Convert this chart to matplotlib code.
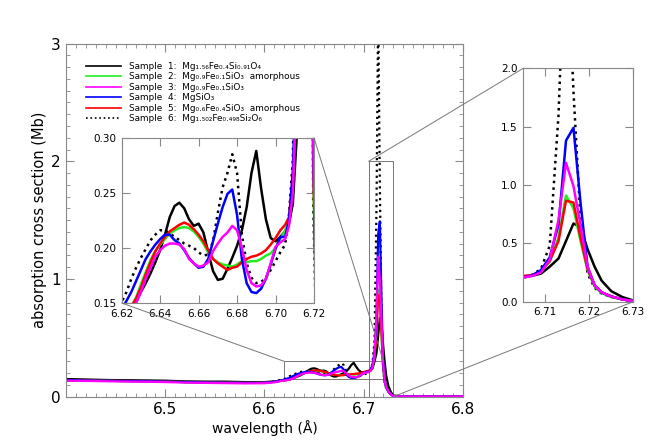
import matplotlib
matplotlib.use("Agg")
import matplotlib.pyplot as plt
from matplotlib.patches import Rectangle, ConnectionPatch
from matplotlib.ticker import MultipleLocator, FixedLocator

# wavelength grid (Angstrom)
wavelength = [6.40, 6.42, 6.44, 6.46, 6.48, 6.50, 6.52, 6.54, 6.56, 6.58, 6.60, 6.61,
              6.6200, 6.6225, 6.6250, 6.6275, 6.6300, 6.6325, 6.6350, 6.6375, 6.6400,
              6.6425, 6.6450, 6.6475, 6.6500, 6.6525, 6.6550, 6.6575, 6.6600, 6.6625,
              6.6650, 6.6675, 6.6700, 6.6725, 6.6750, 6.6775, 6.6800, 6.6825, 6.6850,
              6.6875, 6.6900, 6.6925, 6.6950, 6.6975, 6.7000, 6.7025, 6.7050,
              6.707, 6.709, 6.711, 6.713, 6.7147, 6.7164, 6.718, 6.7196, 6.7212,
              6.7228, 6.725, 6.7275, 6.730,
              6.74, 6.76, 6.78, 6.80]

sample1 = [0.150, 0.146, 0.142, 0.140, 0.138, 0.136, 0.130, 0.128, 0.128, 0.124, 0.124, 0.130,
           0.140, 0.142, 0.146, 0.151, 0.160, 0.168, 0.177, 0.187, 0.198,
           0.212, 0.228, 0.238, 0.241, 0.236, 0.226, 0.220, 0.222, 0.214,
           0.196, 0.179, 0.171, 0.172, 0.181, 0.191, 0.202, 0.216, 0.237,
           0.268, 0.288, 0.254, 0.226, 0.209, 0.206, 0.210, 0.215,
           0.222, 0.240, 0.300, 0.370, 0.520, 0.670, 0.640, 0.450, 0.300,
           0.180, 0.090, 0.040, 0.010,
           0.003, 0.002, 0.002, 0.002]

sample2 = [0.140, 0.138, 0.135, 0.133, 0.131, 0.128, 0.124, 0.121, 0.119, 0.117, 0.118, 0.126,
           0.139, 0.142, 0.147, 0.155, 0.167, 0.178, 0.189, 0.197, 0.203,
           0.208, 0.213, 0.216, 0.218, 0.219, 0.218, 0.215, 0.210, 0.204,
           0.196, 0.190, 0.187, 0.185, 0.184, 0.183, 0.185, 0.188, 0.187,
           0.188, 0.188, 0.190, 0.193, 0.195, 0.200, 0.208, 0.216,
           0.225, 0.260, 0.340, 0.550, 0.910, 0.800, 0.520, 0.270, 0.130,
           0.075, 0.040, 0.020, 0.005,
           0.002, 0.002, 0.002, 0.002]

sample3 = [0.136, 0.134, 0.131, 0.129, 0.127, 0.124, 0.120, 0.117, 0.115, 0.113, 0.114, 0.122,
           0.138, 0.140, 0.144, 0.150, 0.160, 0.172, 0.182, 0.192, 0.198,
           0.202, 0.204, 0.204, 0.203, 0.199, 0.190, 0.186, 0.183, 0.184,
           0.187, 0.197, 0.204, 0.210, 0.214, 0.220, 0.216, 0.200, 0.180,
           0.168, 0.165, 0.166, 0.172, 0.186, 0.201, 0.205, 0.208,
           0.220, 0.250, 0.360, 0.700, 1.190, 0.990, 0.660, 0.300, 0.140,
           0.080, 0.045, 0.020, 0.005,
           0.002, 0.002, 0.002, 0.002]

sample4 = [0.140, 0.138, 0.135, 0.133, 0.131, 0.128, 0.124, 0.121, 0.119, 0.117, 0.118, 0.127,
           0.144, 0.152, 0.160, 0.170, 0.180, 0.190, 0.197, 0.203, 0.208,
           0.212, 0.212, 0.207, 0.204, 0.198, 0.191, 0.186, 0.182, 0.183,
           0.190, 0.206, 0.222, 0.237, 0.249, 0.253, 0.230, 0.190, 0.168,
           0.160, 0.159, 0.163, 0.172, 0.185, 0.199, 0.210, 0.210,
           0.225, 0.270, 0.380, 0.660, 1.380, 1.490, 0.850, 0.300, 0.140,
           0.080, 0.045, 0.020, 0.005,
           0.002, 0.002, 0.002, 0.002]

sample5 = [0.140, 0.138, 0.135, 0.133, 0.131, 0.128, 0.124, 0.121, 0.119, 0.117, 0.118, 0.126,
           0.139, 0.142, 0.147, 0.154, 0.164, 0.176, 0.187, 0.197, 0.204,
           0.210, 0.215, 0.218, 0.221, 0.223, 0.221, 0.217, 0.212, 0.206,
           0.198, 0.190, 0.186, 0.183, 0.180, 0.182, 0.183, 0.187, 0.190,
           0.192, 0.193, 0.195, 0.198, 0.203, 0.209, 0.216, 0.221,
           0.228, 0.260, 0.350, 0.520, 0.865, 0.850, 0.550, 0.280, 0.140,
           0.080, 0.045, 0.020, 0.005,
           0.002, 0.002, 0.002, 0.002]

sample6 = [0.141, 0.139, 0.136, 0.134, 0.132, 0.129, 0.125, 0.122, 0.120, 0.118, 0.119, 0.130,
           0.151, 0.160, 0.172, 0.182, 0.191, 0.199, 0.207, 0.212, 0.216,
           0.216, 0.213, 0.210, 0.207, 0.204, 0.202, 0.200, 0.196, 0.193,
           0.194, 0.206, 0.232, 0.255, 0.268, 0.285, 0.268, 0.212, 0.186,
           0.173, 0.168, 0.169, 0.173, 0.180, 0.188, 0.196, 0.203,
           0.230, 0.280, 0.480, 1.600, 3.300, 1.800, 0.700, 0.240, 0.120,
           0.070, 0.040, 0.020, 0.005,
           0.002, 0.002, 0.002, 0.002]

labels = ['Sample  1:  Mg₁.₅₆Fe₀.₄Si₀.₉₁O₄',
          'Sample  2:  Mg₀.₉Fe₀.₁SiO₃  amorphous',
          'Sample  3:  Mg₀.₉Fe₀.₁SiO₃',
          'Sample  4:  MgSiO₃',
          'Sample  5:  Mg₀.₆Fe₀.₄SiO₃  amorphous',
          'Sample  6:  Mg₁.₅₀₂Fe₀.₄₉₈Si₂O₆']
colors = ['black', '#22ee22', '#ff00ff', '#0000ff', '#ff0000', 'black']
styles = ['-', '-', '-', '-', '-', ':']
series = [sample1, sample2, sample3, sample4, sample5, sample6]
# drawing order: black first, magenta on top
order = [0, 5, 1, 4, 3, 2]

zoom1_x = (6.62, 6.72)
zoom1_y = (0.15, 0.30)
zoom2_x = (6.705, 6.73)
zoom2_y = (0.0, 2.0)

axcol = '#888888'
plt.rcParams['font.family'] = 'DejaVu Sans'


def style_axes(ax, size):
    for s in ax.spines.values():
        s.set_color(axcol)
        s.set_linewidth(0.8)
    ax.tick_params(which='both', direction='in', top=True, right=True,
                   color=axcol, labelsize=size, pad=4)
    ax.tick_params(which='major', length=6)
    ax.tick_params(which='minor', length=3)


fig = plt.figure(figsize=(6.61, 4.41), dpi=100)
ax = fig.add_axes([0.1003, 0.1005, 0.5997, 0.8005])
for i in order:
    ax.plot(wavelength, series[i], color=colors[i], ls=styles[i], lw=1.6)
ax.set_xlim(6.4, 6.8)
ax.set_ylim(0, 3)
ax.xaxis.set_major_locator(FixedLocator([6.5, 6.6, 6.7, 6.8]))
ax.xaxis.set_minor_locator(MultipleLocator(0.01))
ax.yaxis.set_major_locator(MultipleLocator(1))
ax.yaxis.set_minor_locator(MultipleLocator(0.1))
ax.set_xticklabels(['6.5', '6.6', '6.7', '6.8'])
style_axes(ax, 11)
ax.set_xlabel('wavelength (Å)', fontsize=10, labelpad=2)
ax.set_ylabel('absorption cross section (Mb)', fontsize=10.5, labelpad=3)

handles = [plt.Line2D([], [], color=colors[i], ls=styles[i], lw=1.2) for i in range(6)]
ax.legend(handles, labels, loc='upper left', bbox_to_anchor=(0.041, 0.959),
          frameon=False, fontsize=6.4, handlelength=3.9, handletextpad=0.9,
          labelspacing=0.17, borderaxespad=0)

# boxes marking the zoomed regions
ax.add_patch(Rectangle((zoom1_x[0], zoom1_y[0]), zoom1_x[1] - zoom1_x[0],
                       zoom1_y[1] - zoom1_y[0], fill=False, ec='#777777', lw=0.7))
ax.add_patch(Rectangle((zoom2_x[0], zoom2_y[0]), zoom2_x[1] - zoom2_x[0],
                       zoom2_y[1] - zoom2_y[0], fill=False, ec='#777777', lw=0.7))

# zoom inset 1 (features)
ax1 = fig.add_axes([0.1841, 0.3129, 0.2909, 0.3748])
for i in order:
    ax1.plot(wavelength, series[i], color=colors[i], ls=styles[i], lw=1.8)
ax1.set_xlim(*zoom1_x)
ax1.set_ylim(*zoom1_y)
ax1.xaxis.set_major_locator(MultipleLocator(0.02))
ax1.yaxis.set_major_locator(MultipleLocator(0.05))
ax1.xaxis.set_major_formatter('{x:.2f}')
ax1.yaxis.set_major_formatter('{x:.2f}')
style_axes(ax1, 7.5)

# zoom inset 2 (main peak)
ax2 = fig.add_axes([0.7917, 0.3159, 0.1664, 0.5293])
for i in order:
    ax2.plot(wavelength, series[i], color=colors[i], ls=styles[i], lw=1.8)
ax2.set_xlim(*zoom2_x)
ax2.set_ylim(*zoom2_y)
ax2.xaxis.set_major_locator(FixedLocator([6.71, 6.72, 6.73]))
ax2.yaxis.set_major_locator(MultipleLocator(0.5))
ax2.xaxis.set_major_formatter('{x:.2f}')
ax2.yaxis.set_major_formatter('{x:.1f}')
style_axes(ax2, 7.5)

# connector lines
for xa, xb in [((zoom1_x[0], zoom1_y[1]), (zoom1_x[0], zoom1_y[0])),
               ((zoom1_x[1], zoom1_y[1]), (zoom1_x[1], zoom1_y[1]))]:
    fig.add_artist(ConnectionPatch(xa, xb, 'data', 'data', axesA=ax, axesB=ax1,
                                   color='#777777', lw=0.7))
for xa in [(zoom2_x[0], zoom2_y[1]), (zoom2_x[1], zoom2_y[0])]:
    fig.add_artist(ConnectionPatch(xa, xa, 'data', 'data', axesA=ax, axesB=ax2,
                                   color='#777777', lw=0.7))

fig.savefig('out.png', dpi=100)
